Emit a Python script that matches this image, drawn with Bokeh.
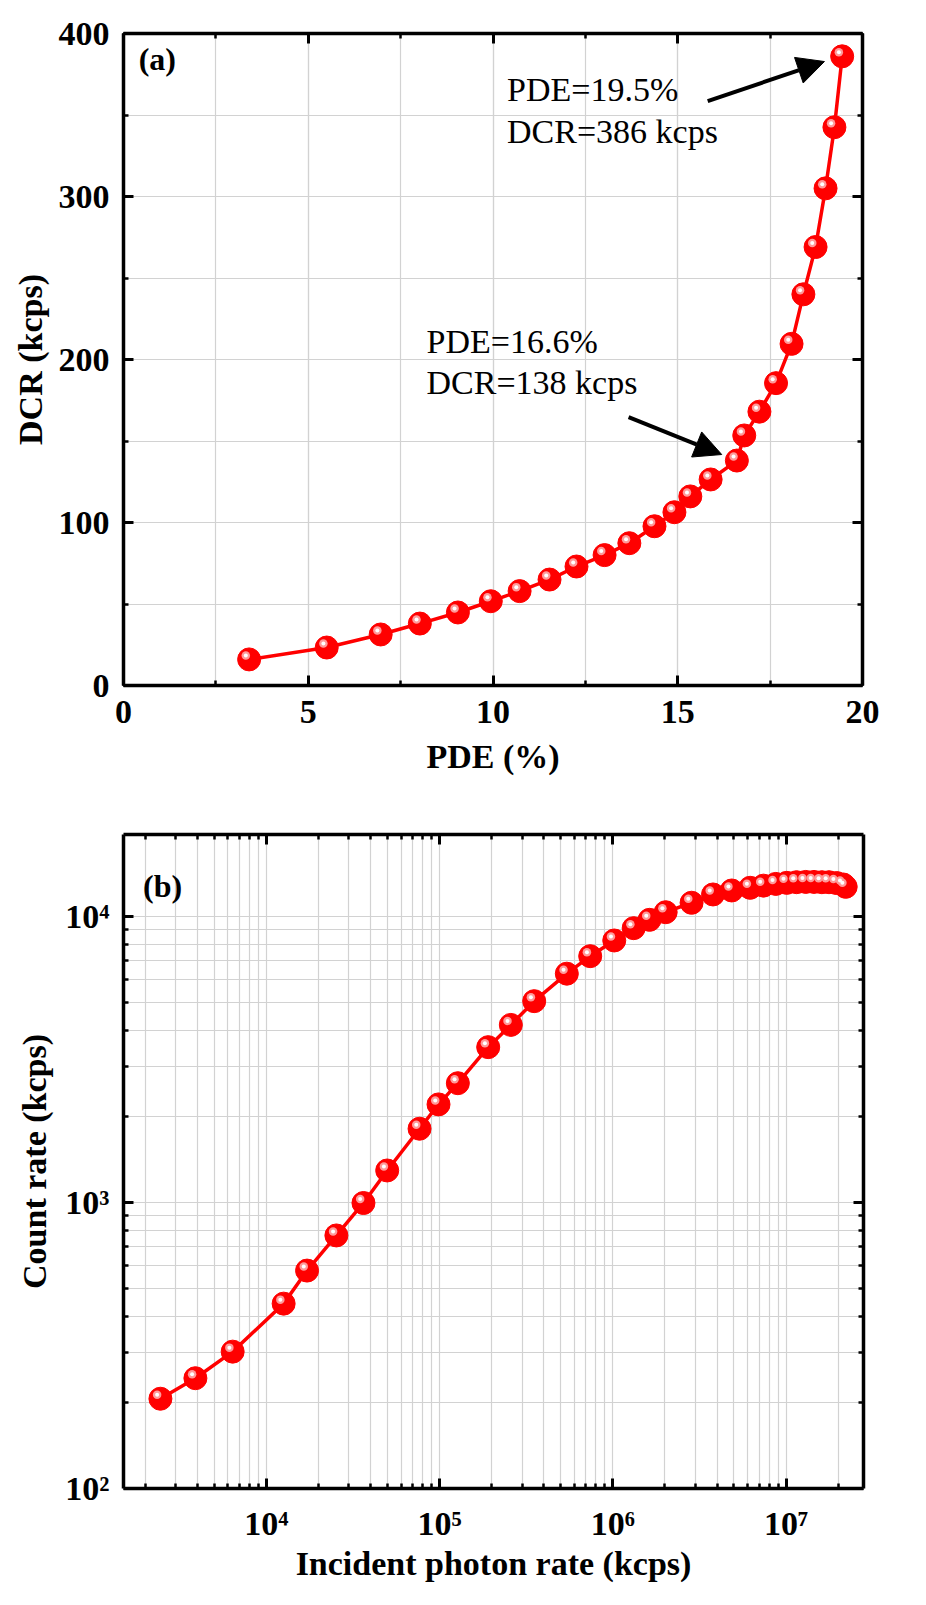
import numpy as np
from bokeh.plotting import figure
from bokeh.layouts import column
from bokeh.models import (LinearAxis, LogAxis, SingleIntervalTicker, FixedTicker,
                          CustomJSTickFormatter, Label, Arrow, NormalHead, Range1d)
from bokeh.embed import file_html
from bokeh.resources import INLINE

# ---------------- data ----------------
pde = [3.4, 5.5, 6.96, 8.02, 9.05, 9.94, 10.72, 11.53, 12.26, 13.02, 13.69, 14.37,
       14.91, 15.34, 15.89, 16.6, 16.8, 17.21, 17.66, 18.08, 18.4, 18.73, 19.0, 19.24, 19.45]
dcr = [16, 23.3, 31.3, 38, 44.8, 51.7, 57.9, 65, 73, 80, 87.3, 97.7,
       106.3, 116, 126.4, 138, 153.4, 168, 185.5, 209.6, 240, 269, 305, 342.5, 386]

incident = [2450, 3900, 6400, 12600, 17200, 25400, 36400, 49900, 76700, 98700,
            127600, 191000, 258000, 352000, 543000, 741000, 1.02e6, 1.32e6, 1.63e6,
            2.02e6, 2.85e6, 3.79e6, 4.86e6, 6.21e6, 7.41e6, 8.73e6, 1.01e7, 1.15e7,
            1.30e7, 1.45e7, 1.61e7, 1.77e7, 1.96e7, 2.14e7, 2.21e7]
count = [206, 243, 301, 443, 578, 767, 996, 1294, 1811, 2203,
         2613, 3493, 4178, 5058, 6310, 7266, 8244, 9103, 9736,
         10350, 11170, 11940, 12330, 12600, 12820, 13000, 13110, 13180,
         13210, 13210, 13180, 13180, 13090, 12940, 12700]

x_tick_vals = [1e4, 1e5, 1e6, 1e7]
x_tick_labels = ["10\u2074", "10\u2075", "10\u2076", "10\u2077"]
y_tick_vals = [1e2, 1e3, 1e4]
y_tick_labels = ["10\u00b2", "10\u00b3", "10\u2074"]

label_a = "(a)"
label_b = "(b)"
ann1 = ["PDE=19.5%", "DCR=386 kcps"]
ann2 = ["PDE=16.6%", "DCR=138 kcps"]

# ---------------- style ----------------
FONT = "Liberation Serif"
RED = "#ff0000"
GRID = "#d2d2d2"
FS = "34px"

blank = CustomJSTickFormatter(code="return ''")


def style_axis(ax, labels=True, tick_standoff=12, label_standoff=0):
    ax.axis_line_width = 3.5
    ax.axis_line_color = "black"
    ax.major_tick_in = 10
    ax.major_tick_out = 0
    ax.minor_tick_in = 5
    ax.minor_tick_out = 0
    ax.major_tick_line_width = 3
    ax.minor_tick_line_width = 2.5
    ax.major_label_text_font = FONT
    ax.major_label_text_font_size = FS
    ax.major_label_text_font_style = "bold"
    ax.major_label_text_color = "black"
    ax.major_label_standoff = tick_standoff
    ax.axis_label_text_font = FONT
    ax.axis_label_text_font_size = FS
    ax.axis_label_text_font_style = "bold"
    ax.axis_label_text_color = "black"
    ax.axis_label_standoff = label_standoff
    if not labels:
        ax.formatter = blank


def style_grid(p):
    for g in (p.xgrid[0], p.ygrid[0]):
        g.grid_line_color = GRID
        g.grid_line_width = 1.2
        g.minor_grid_line_color = GRID
        g.minor_grid_line_width = 1.2


def text_label(p, x, y, text, size=FS, bold=False):
    p.add_layout(Label(x=x, y=y, text=text, text_font=FONT, text_font_size=size,
                       text_color="black", text_font_style="bold" if bold else "normal",
                       text_baseline="alphabetic", y_offset=12))


# ---------------- panel (a) ----------------
p1 = figure(frame_width=739, frame_height=652,
            x_range=Range1d(0, 20), y_range=Range1d(0, 400),
            output_backend="svg", toolbar_location=None,
            min_border_left=123, min_border_top=33, min_border_right=40, min_border_bottom=105,
            x_axis_label="PDE (%)", y_axis_label="DCR (kcps)")
p1.outline_line_color = None
xt1 = SingleIntervalTicker(interval=5, num_minor_ticks=2)
yt1 = SingleIntervalTicker(interval=100, num_minor_ticks=2)
p1.xaxis[0].ticker = xt1
p1.yaxis[0].ticker = yt1
p1.xgrid[0].ticker = xt1
p1.ygrid[0].ticker = yt1
style_axis(p1.xaxis[0], tick_standoff=15, label_standoff=12)
style_axis(p1.yaxis[0], tick_standoff=14, label_standoff=7)
top1 = LinearAxis(ticker=xt1)
right1 = LinearAxis(ticker=yt1)
style_axis(top1, labels=False)
style_axis(right1, labels=False)
p1.add_layout(top1, "above")
p1.add_layout(right1, "right")
style_grid(p1)

p1.line(pde, dcr, line_color=RED, line_width=3.5)
p1.scatter(pde, dcr, size=23, fill_color=RED, line_color=RED, line_width=1)
hx1 = np.array(pde) - 0.09
hy1 = np.array(dcr) + 2.45
p1.scatter(hx1, hy1, size=8.5, fill_color="#ff9a9a", line_color=None)
p1.scatter(hx1, hy1, size=4, fill_color="#ffffff", line_color=None)

p1.add_layout(Arrow(end=NormalHead(size=27, fill_color="black", line_color="black"),
                    x_start=15.81, y_start=358.5, x_end=18.97, y_end=382.8,
                    line_width=4, line_color="black"))
p1.add_layout(Arrow(end=NormalHead(size=27, fill_color="black", line_color="black"),
                    x_start=13.67, y_start=164.6, x_end=16.19, y_end=141.7,
                    line_width=4, line_color="black"))

text_label(p1, 10.38, 358.5, ann1[0])
text_label(p1, 10.38, 332.7, ann1[1])
text_label(p1, 8.20, 203.9, ann2[0])
text_label(p1, 8.20, 178.5, ann2[1])
text_label(p1, 0.41, 376.7, label_a, size="32px", bold=True)

# ---------------- panel (b) ----------------
x_minor = [m * 10 ** k for k in range(3, 8) for m in range(2, 10) if 1500 < m * 10 ** k < 2.8e7]
y_minor = [m * 10 ** k for k in range(2, 5) for m in range(2, 10) if 100 < m * 10 ** k < 19350]

p2 = figure(frame_width=740, frame_height=654,
            x_axis_type="log", y_axis_type="log",
            x_range=Range1d(1500, 2.8e7), y_range=Range1d(100, 19350),
            output_backend="svg", toolbar_location=None,
            min_border_left=122, min_border_top=44, min_border_right=40, min_border_bottom=105,
            x_axis_label="Incident photon rate (kcps)", y_axis_label="Count rate (kcps)")
p2.outline_line_color = None
xt2 = FixedTicker(ticks=x_tick_vals, minor_ticks=x_minor)
yt2 = FixedTicker(ticks=y_tick_vals, minor_ticks=y_minor)
p2.xaxis[0].ticker = xt2
p2.yaxis[0].ticker = yt2
p2.xgrid[0].ticker = xt2
p2.ygrid[0].ticker = yt2
fmt_code = ("for (let i = 0; i < vals.length; i++) {"
            " if (Math.abs(vals[i] - tick) < 1e-6 * vals[i]) return labs[i]; }"
            " return '';")
p2.xaxis[0].formatter = CustomJSTickFormatter(args=dict(vals=x_tick_vals, labs=x_tick_labels), code=fmt_code)
p2.yaxis[0].formatter = CustomJSTickFormatter(args=dict(vals=y_tick_vals, labs=y_tick_labels), code=fmt_code)
style_axis(p2.xaxis[0], tick_standoff=16, label_standoff=0)
style_axis(p2.yaxis[0], tick_standoff=14, label_standoff=9)
top2 = LogAxis(ticker=xt2)
right2 = LogAxis(ticker=yt2)
style_axis(top2, labels=False)
style_axis(right2, labels=False)
p2.add_layout(top2, "above")
p2.add_layout(right2, "right")
style_grid(p2)

p2.line(incident, count, line_color=RED, line_width=3.5)
p2.scatter(incident, count, size=23, fill_color=RED, line_color=RED, line_width=1)
hx2 = np.array(incident) * 10 ** (-3.3 / 173.3)
hy2 = np.array(count) * 10 ** (4 / 286)
p2.scatter(hx2, hy2, size=8.5, fill_color="#ff9a9a", line_color=None)
p2.scatter(hx2, hy2, size=4, fill_color="#ffffff", line_color=None)

text_label(p2, 1943, 11624, label_b, size="32px", bold=True)

layout = column(p1, p2, spacing=0)
open("out.html", "w").write(file_html(layout, INLINE))
